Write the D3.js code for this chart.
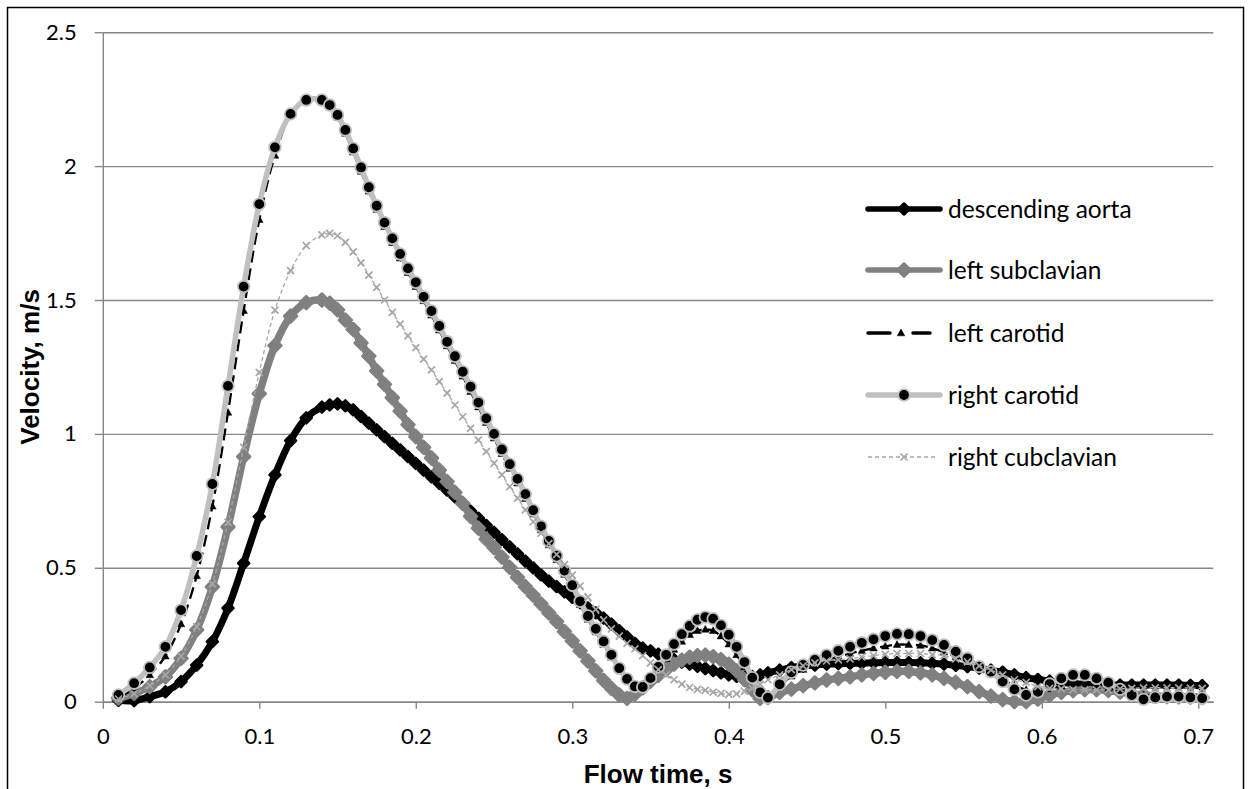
<!DOCTYPE html>
<html>
<head>
<meta charset="utf-8">
<script src="https://cdn.jsdelivr.net/npm/d3@7"></script>
<style>
  body { margin: 0; background: #fff; }
  svg { display: block; }
  .tick text { font-family: Lato, "Open Sans", sans-serif; font-size: 22px; fill: #000; }
</style>
</head>
<body>
<div id="chart"></div>
<script>
// Flow time (s) of every sample
var times = [0.01,0.02,0.03,0.04,0.05,0.06,0.07,0.08,0.09,0.10,0.11,0.12,0.13,0.14,
    0.145,0.15,0.155,0.16,0.165,0.17,0.175,0.18,0.185,0.19,0.195,0.20,0.205,0.21,0.215,0.22,
    0.225,0.23,0.235,0.24,0.245,0.25,0.255,0.26,0.265,0.27,0.275,0.28,0.285,0.29,0.295,0.30,
    0.305,0.31,0.315,0.32,0.325,0.33,0.335,0.34,0.345,0.35,0.355,0.36,0.365,0.37,0.375,0.38,
    0.385,0.39,0.395,0.40,0.405,0.41,0.415,0.42,0.425,
    0.4325,0.44,0.4475,0.455,0.4625,0.47,0.4775,0.485,0.4925,0.50,0.5075,0.515,0.5225,0.53,
    0.5375,0.545,0.5525,0.56,0.5675,0.575,0.5825,0.59,0.5975,0.605,0.6125,0.62,0.6275,0.635,
    0.6425,0.65,0.6575,0.665,0.6725,0.68,0.6875,0.695,0.7025];

// Velocities (m/s), one value per time
var descendingAorta = [0.005,0.004,0.019,0.037,0.075,0.137,0.224,0.349,0.517,0.691,0.847,0.975,1.06,1.10,
    1.108,1.112,1.105,1.09,1.065,1.04,1.015,0.99,0.965,0.94,
    0.915,0.89,0.865,0.84,0.815,0.79,0.765,0.738,0.712,0.685,
    0.658,0.632,0.605,0.578,0.552,0.525,0.50,0.474,0.45,0.43,
    0.41,0.39,0.37,0.35,0.332,0.312,0.29,0.265,0.242,0.218,
    0.2,0.19,0.178,0.167,0.157,0.148,0.14,0.132,0.124,0.116,
    0.108,0.1,0.095,0.092,0.094,0.1,0.108,
    0.118,0.127,0.133,0.137,0.14,0.142,0.143,0.144,0.145,0.146,
    0.146,0.146,0.145,0.143,0.14,0.136,0.131,0.125,0.118,0.11,
    0.1,0.09,0.083,0.077,0.072,0.068,0.065,0.063,0.062,0.062,
    0.062,0.062,0.062,0.062,0.062,0.061,0.06];

var leftSubclavian = [0.013,0.031,0.056,0.093,0.162,0.268,0.429,0.653,0.915,1.15,1.33,1.44,1.49,1.50,
    1.488,1.463,1.425,1.39,1.34,1.29,1.235,1.185,1.135,1.085,
    1.035,0.99,0.95,0.91,0.865,0.822,0.782,0.741,0.692,0.648,
    0.607,0.575,0.54,0.502,0.464,0.43,0.398,0.365,0.332,0.299,
    0.262,0.227,0.19,0.152,0.115,0.08,0.05,0.025,0.012,0.028,
    0.052,0.077,0.098,0.12,0.14,0.155,0.166,0.172,0.174,0.168,
    0.157,0.14,0.115,0.082,0.045,0.012,0.015,
    0.035,0.047,0.06,0.07,0.081,0.087,0.093,0.1,0.106,0.11,
    0.113,0.113,0.108,0.1,0.087,0.072,0.056,0.038,0.021,0.008,
    0.0,0.0,0.01,0.024,0.035,0.041,0.045,0.045,0.042,0.036,
    0.03,0.025,0.021,0.019,0.018,0.017,0.015];

var leftCarotid = [0.015,0.05,0.10,0.17,0.29,0.47,0.73,1.08,1.46,1.80,2.04,2.19,2.245,2.248,
    2.222,2.182,2.122,2.052,1.98,1.906,1.838,1.774,1.714,1.656,
    1.602,1.55,1.497,1.443,1.387,1.328,1.273,1.215,1.158,1.1,
    1.042,0.984,0.926,0.871,0.816,0.758,0.70,0.641,0.585,0.53,
    0.475,0.42,0.362,0.307,0.26,0.213,0.165,0.12,0.085,0.06,
    0.06,0.085,0.12,0.16,0.195,0.225,0.25,0.265,0.27,0.265,
    0.245,0.215,0.175,0.13,0.08,0.04,0.025,
    0.06,0.095,0.12,0.14,0.155,0.168,0.18,0.19,0.2,0.207,
    0.213,0.213,0.21,0.2,0.185,0.168,0.148,0.125,0.104,0.08,
    0.06,0.045,0.04,0.048,0.058,0.065,0.065,0.06,0.05,0.04,
    0.03,0.025,0.025,0.027,0.028,0.027,0.025];

var rightCarotid = [0.025,0.069,0.128,0.205,0.342,0.544,0.813,1.179,1.55,1.858,2.07,2.195,2.247,2.247,
    2.228,2.191,2.135,2.066,1.995,1.921,1.852,1.789,1.73,1.672,
    1.618,1.566,1.512,1.459,1.403,1.344,1.29,1.232,1.176,1.117,
    1.058,1.0,0.942,0.887,0.832,0.775,0.715,0.655,0.60,0.545,
    0.49,0.435,0.375,0.32,0.272,0.225,0.175,0.125,0.085,0.057,
    0.055,0.088,0.13,0.175,0.215,0.252,0.283,0.306,0.316,0.31,
    0.285,0.25,0.205,0.148,0.09,0.035,0.015,
    0.065,0.11,0.137,0.156,0.174,0.19,0.205,0.22,0.233,0.245,
    0.253,0.252,0.245,0.23,0.212,0.187,0.162,0.131,0.112,0.075,
    0.046,0.025,0.037,0.066,0.087,0.1,0.1,0.087,0.071,0.046,
    0.025,0.009,0.016,0.019,0.019,0.016,0.013];

var rightSubclavian = [0.01,0.03,0.06,0.10,0.17,0.28,0.44,0.67,0.95,1.23,1.462,1.61,1.703,1.743,
    1.749,1.74,1.715,1.68,1.639,1.593,1.547,1.50,1.454,1.41,
    1.366,1.322,1.279,1.239,1.195,1.152,1.108,1.064,1.021,0.977,
    0.934,0.89,0.847,0.803,0.76,0.716,0.672,0.629,0.59,0.55,
    0.512,0.473,0.432,0.39,0.345,0.305,0.272,0.245,0.218,0.197,
    0.172,0.145,0.12,0.1,0.082,0.066,0.053,0.046,0.042,0.036,
    0.031,0.027,0.029,0.038,0.05,0.066,0.082,
    0.1,0.12,0.134,0.145,0.152,0.156,0.16,0.167,0.172,0.177,
    0.18,0.18,0.18,0.176,0.172,0.16,0.149,0.134,0.118,0.1,
    0.082,0.072,0.056,0.05,0.048,0.045,0.044,0.044,0.044,0.048,
    0.05,0.052,0.052,0.052,0.052,0.051,0.05];

var seriesNames = ["descending aorta", "left subclavian", "left carotid", "right carotid", "right cubclavian"];
var xTicks = [0, 0.1, 0.2, 0.3, 0.4, 0.5, 0.6, 0.7];
var yTicks = [0, 0.5, 1, 1.5, 2, 2.5];

var W = 1251, H = 789;
// plot area (note: "top" is taken by window.top, so prefix everything)
var plotL = 102.8, plotR = 1213.3, plotT = 32.2, plotB = 701.7;
var gridColor = "#878787";

// marker shapes, centred on 0,0
function diamond(r) { return "M0," + (-r) + "L" + r + ",0L0," + r + "L" + (-r) + ",0Z"; }
function triangle(r) { return "M0," + (-r) + "L" + (r * 0.95) + "," + (r * 0.7) + "L" + (-r * 0.95) + "," + (r * 0.7) + "Z"; }
function cross(r) { return "M" + (-r) + "," + (-r) + "L" + r + "," + r + "M" + (-r) + "," + r + "L" + r + "," + (-r); }

var series = [
    { name: seriesNames[0], values: descendingAorta, stroke: "#000", width: 7, dash: null,
      marker: diamond(5.5), mFill: "#000", mStroke: "#000", mWidth: 2.5 },
    { name: seriesNames[1], values: leftSubclavian, stroke: "#808080", width: 7.5, dash: null,
      marker: diamond(6.5), mFill: "#808080", mStroke: "#808080", mWidth: 2.5 },
    { name: seriesNames[2], values: leftCarotid, stroke: "#000", width: 2.3, dash: "12,6",
      marker: triangle(4), mFill: "#000", mStroke: "#000", mWidth: 0.5 },
    { name: seriesNames[3], values: rightCarotid, stroke: "#c0c0c0", width: 5.5, dash: null,
      marker: "circle", mFill: "#000", mStroke: "#bfbfbf", mWidth: 1.8 },
    { name: seriesNames[4], values: rightSubclavian, stroke: "#a6a6a6", width: 1.3, dash: "4,3",
      marker: cross(3.5), mFill: "none", mStroke: "#a6a6a6", mWidth: 1.7 }
];

var x = d3.scaleLinear().domain([0, 0.7096]).range([plotL, plotR]);
var y = d3.scaleLinear().domain([0, 2.5]).range([plotB, plotT]);

var svg = d3.select("#chart").append("svg")
    .attr("width", W)
    .attr("height", H);

svg.append("rect")
    .attr("width", W).attr("height", H)
    .attr("fill", "#fff");

// chart border
svg.append("rect")
    .attr("x", 7.5).attr("y", 7.5)
    .attr("width", 1236).attr("height", 800)
    .attr("fill", "none")
    .attr("stroke", "#000")
    .attr("stroke-width", 1.5);

// horizontal gridlines
svg.append("g")
    .attr("transform", "translate(" + plotL + ",0)")
    .call(d3.axisLeft(y).tickValues(yTicks).tickSize(-(plotR - plotL)).tickFormat(""))
    .call(function(g) {
        g.select(".domain").remove();
        g.selectAll(".tick line").attr("stroke", gridColor).attr("stroke-width", 1.4);
    });

// y axis
svg.append("g")
    .attr("transform", "translate(" + plotL + ",0)")
    .call(d3.axisLeft(y).tickValues(yTicks).tickSize(8).tickSizeOuter(0).tickPadding(18)
          .tickFormat(function(d) { return d3.format("")(d); }))
    .call(function(g) {
        g.select(".domain").attr("stroke", gridColor).attr("stroke-width", 1.4);
        g.selectAll(".tick line").attr("stroke", gridColor).attr("stroke-width", 1.4);
    });

// x axis
svg.append("g")
    .attr("transform", "translate(0," + plotB + ")")
    .call(d3.axisBottom(x).tickValues(xTicks).tickSize(7).tickSizeOuter(0).tickPadding(20)
          .tickFormat(function(d) { return d3.format("")(d); }))
    .call(function(g) {
        g.select(".domain").attr("stroke", gridColor).attr("stroke-width", 1.4);
        g.selectAll(".tick line").attr("stroke", gridColor).attr("stroke-width", 1.4);
    });

// axis titles
svg.append("text")
    .attr("x", (plotL + plotR) / 2)
    .attr("y", 783)
    .attr("text-anchor", "middle")
    .style("font-family", "Arial, 'Liberation Sans', sans-serif")
    .style("font-weight", "bold")
    .style("font-size", "26px")
    .text("Flow time, s");

svg.append("text")
    .attr("transform", "translate(39," + ((plotT + plotB) / 2) + ") rotate(-90)")
    .attr("text-anchor", "middle")
    .style("font-family", "Arial, 'Liberation Sans', sans-serif")
    .style("font-weight", "bold")
    .style("font-size", "26px")
    .text("Velocity, m/s");

// the series, drawn in legend order like the spreadsheet does
var line = d3.line()
    .x(function(d) { return x(d.t); })
    .y(function(d) { return y(d.v); })
    .curve(d3.curveCatmullRom.alpha(0.5));

function drawMarker(sel, s) {
    if (s.marker === "circle") {
        sel.append("circle").attr("r", 5.8);
    } else {
        sel.append("path").attr("d", s.marker);
    }
    sel.selectAll("circle, path")
        .attr("fill", s.mFill)
        .attr("stroke", s.mStroke)
        .attr("stroke-width", s.mWidth)
        .attr("stroke-linejoin", "round");
}

series.forEach(function(s) {
    var pts = times.map(function(t, i) { return { t: t, v: s.values[i] }; });
    var g = svg.append("g").attr("class", "series");
    g.append("path")
        .datum(pts)
        .attr("d", line)
        .attr("fill", "none")
        .attr("stroke", s.stroke)
        .attr("stroke-width", s.width)
        .attr("stroke-linejoin", "round")
        .attr("stroke-linecap", s.dash ? "butt" : "round")
        .attr("stroke-dasharray", s.dash);
    g.selectAll("g.mk")
        .data(pts)
      .enter().append("g")
        .attr("class", "mk")
        .attr("transform", function(d) { return "translate(" + x(d.t) + "," + y(d.v) + ")"; })
        .each(function() { drawMarker(d3.select(this), s); });
});

// legend
var legendY = [209, 270, 333, 395, 457];
var lg = svg.append("g").attr("class", "legend");
series.forEach(function(s, i) {
    var row = lg.append("g").attr("transform", "translate(868," + legendY[i] + ")");
    if (i === 2) {
        // dash, marker, dash
        row.append("line").attr("x1", 0).attr("x2", 22).attr("y1", 0).attr("y2", 0)
            .attr("stroke", "#000").attr("stroke-width", 3.5).attr("stroke-linecap", "round");
        row.append("line").attr("x1", 45).attr("x2", 62).attr("y1", 0).attr("y2", 0)
            .attr("stroke", "#000").attr("stroke-width", 3.5).attr("stroke-linecap", "round");
    } else if (i === 4) {
        row.append("line").attr("x1", 0).attr("x2", 68).attr("y1", 0).attr("y2", 0)
            .attr("stroke", s.stroke).attr("stroke-width", 1.3).attr("stroke-dasharray", "4,3");
    } else {
        row.append("line").attr("x1", 0).attr("x2", 72).attr("y1", 0).attr("y2", 0)
            .attr("stroke", s.stroke).attr("stroke-width", Math.min(s.width, 5.5)).attr("stroke-linecap", "round");
    }
    var m = row.append("g").attr("transform", "translate(" + (i === 2 ? 33 : 36) + ",0)");
    drawMarker(m, s);
    row.append("text")
        .attr("x", 80)
        .attr("dy", "0.35em")
        .style("font-family", "Lato, 'Open Sans', sans-serif")
        .style("font-size", "24.5px")
        .text(s.name);
});
</script>
</body>
</html>
